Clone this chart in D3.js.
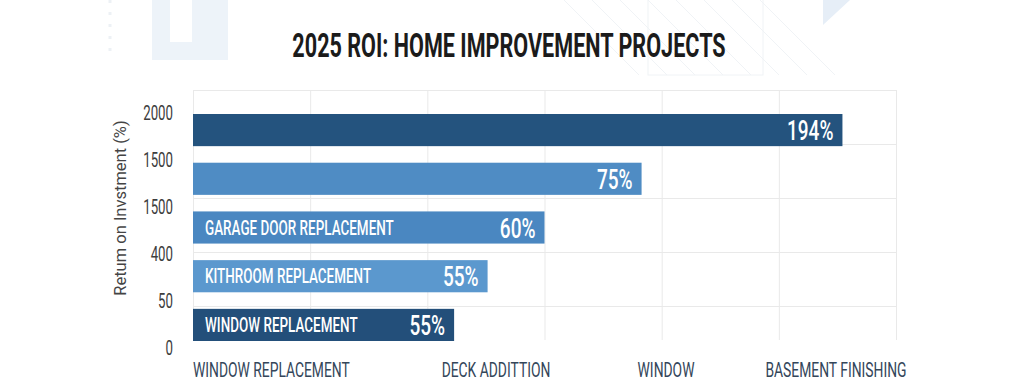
<!DOCTYPE html>
<html>
<head>
<meta charset="utf-8">
<script src="https://cdn.jsdelivr.net/npm/d3@7"></script>
<style>
  body { margin: 0; background: #fff; }
  svg { display: block; }
</style>
</head>
<body>
<svg id="chart" width="1024" height="391"></svg>
<script>
// values
const chartTitle = "2025 ROI: HOME IMPROVEMENT PROJECTS";
const yTitle = "Retum on Invstment (%)";
const projects = ["", "", "GARAGE DOOR REPLACEMENT", "KITHROOM REPLACEMENT", "WINDOW REPLACEMENT"];
const barLengths = [194, 134, 105, 88, 78];
const roiLabels = ["194%", "75%", "60%", "55%", "55%"];
const yTickLabels = ["2000", "1500", "1500", "400", "50", "0"];
const xTickLabels = ["WINDOW REPLACEMENT", "DECK ADDITTION", "WINDOW", "BASEMENT FINISHING"];

let width = 1024,
    height = 391,
    plot = {left: 193, right: 896, top: 90, bottom: 340},
    font = "Roboto, 'Liberation Sans', sans-serif";

let svg = d3.select("#chart");

// faint background decoration
let deco = svg.append("g").attr("fill", "#edf3f9");
deco.append("path")
  .attr("d", "M152,0 L228,0 L228,60 L152,60 Z M170,0 L170,42 L192,42 L192,0 Z");
deco.append("path")
  .attr("d", "M192,18 L200,8 L210,18 L210,42 L192,42 Z");
deco.append("path").attr("d", "M823,0 L850,0 L823,25 Z").attr("fill", "#e6eef7");
svg.append("line")
  .attr("x1", 110).attr("x2", 110).attr("y1", 0).attr("y2", 56)
  .attr("stroke", "#edf1f5").attr("stroke-width", 3).attr("stroke-dasharray", "3,9");
let pat = svg.append("g").attr("stroke", "#f0f3f6").attr("fill", "none");
pat.append("rect").attr("x", 648).attr("y", -2).attr("width", 115).attr("height", 77);
d3.range(-3, 5).forEach(k => {
  pat.append("line")
    .attr("x1", 648 + k * 28).attr("y1", 0)
    .attr("x2", 648 + k * 28 + 75).attr("y2", 75);
});

// scales
let x = d3.scaleLinear().domain([0, 210]).range([plot.left, plot.right]);
let gridY = d3.scaleLinear().domain([0, 4]).range([plot.top, 306]);
let band = d3.scaleBand()
  .domain(d3.range(projects.length))
  .range([114, 341])
  .paddingInner(0.34)
  .paddingOuter(0);
let tickY = d3.scalePoint()
  .domain(d3.range(yTickLabels.length))
  .range([113, 348]);
let labelX = d3.scalePoint()
  .domain(xTickLabels)
  .range([326, 836]);
let color = d3.scaleOrdinal()
  .domain(d3.range(projects.length))
  .range(["#24537e", "#4f8cc4", "#4a87c1", "#5b98ce", "#234f7a"]);

// grid
let grid = svg.append("g").attr("stroke", "#e9e9e9").attr("stroke-width", 1);
grid.selectAll("line.v")
  .data(d3.range(0, 211, 35)).enter()
  .append("line")
  .attr("class", "v")
  .attr("x1", d => x(d) + 0.5).attr("x2", d => x(d) + 0.5)
  .attr("y1", plot.top).attr("y2", plot.bottom);
grid.selectAll("line.h")
  .data(d3.range(0, 5)).enter()
  .append("line")
  .attr("class", "h")
  .attr("x1", plot.left).attr("x2", plot.right)
  .attr("y1", d => gridY(d) + 0.5).attr("y2", d => gridY(d) + 0.5);

// bars
let bars = svg.append("g")
  .selectAll("g")
  .data(barLengths).enter()
  .append("g");

bars.append("rect")
  .attr("x", x(0))
  .attr("y", (d, i) => band(i))
  .attr("width", d => x(d) - x(0))
  .attr("height", band.bandwidth())
  .attr("fill", (d, i) => color(i));

// condensed look: horizontal squeeze of Roboto
function squeezed(sel, px, py, k) {
  return sel.attr("transform", (d, i) => `translate(${px(d, i)},${py(d, i)}) scale(${k},1)`);
}

squeezed(bars.append("text"), d => x(0) + 12, (d, i) => band(i) + band.bandwidth() / 2 + 7, 0.69)
  .text((d, i) => projects[i])
  .attr("fill", "#fff")
  .attr("font-family", font)
  .attr("font-weight", 500)
  .attr("font-size", 19.5);

squeezed(bars.append("text"), d => x(d) - 9, (d, i) => band(i) + band.bandwidth() / 2 + 10, 0.68)
  .text((d, i) => roiLabels[i])
  .attr("text-anchor", "end")
  .attr("fill", "#fff")
  .attr("font-family", font)
  .attr("font-weight", 500)
  .attr("font-size", 28);

// y tick labels
squeezed(svg.append("g").selectAll("text").data(yTickLabels).enter().append("text"),
    d => 173, (d, i) => tickY(i) + 7, 0.68)
  .text(d => d)
  .attr("text-anchor", "end")
  .attr("fill", "#3d3d3d")
  .attr("font-family", font)
  .attr("font-size", 19.5);

// x labels
squeezed(svg.append("g").selectAll("text").data(xTickLabels).enter().append("text"),
    (d, i) => i === 0 ? plot.left : labelX(d), d => 377, 0.66)
  .text(d => d)
  .attr("text-anchor", (d, i) => i === 0 ? "start" : "middle")
  .attr("fill", "#34465a")
  .attr("font-family", font)
  .attr("font-size", 21);

// y title
svg.append("text")
  .attr("transform", "translate(126,208) rotate(-90)")
  .attr("text-anchor", "middle")
  .attr("fill", "#444")
  .attr("font-family", font)
  .attr("font-size", 16.5)
  .text(yTitle);

// title
squeezed(svg.append("text").datum(chartTitle), d => width / 2 - 3, d => 57, 0.655)
  .text(d => d)
  .attr("text-anchor", "middle")
  .attr("fill", "#1b1b1b")
  .attr("font-family", font)
  .attr("font-weight", 700)
  .attr("font-size", 33);
</script>
</body>
</html>
